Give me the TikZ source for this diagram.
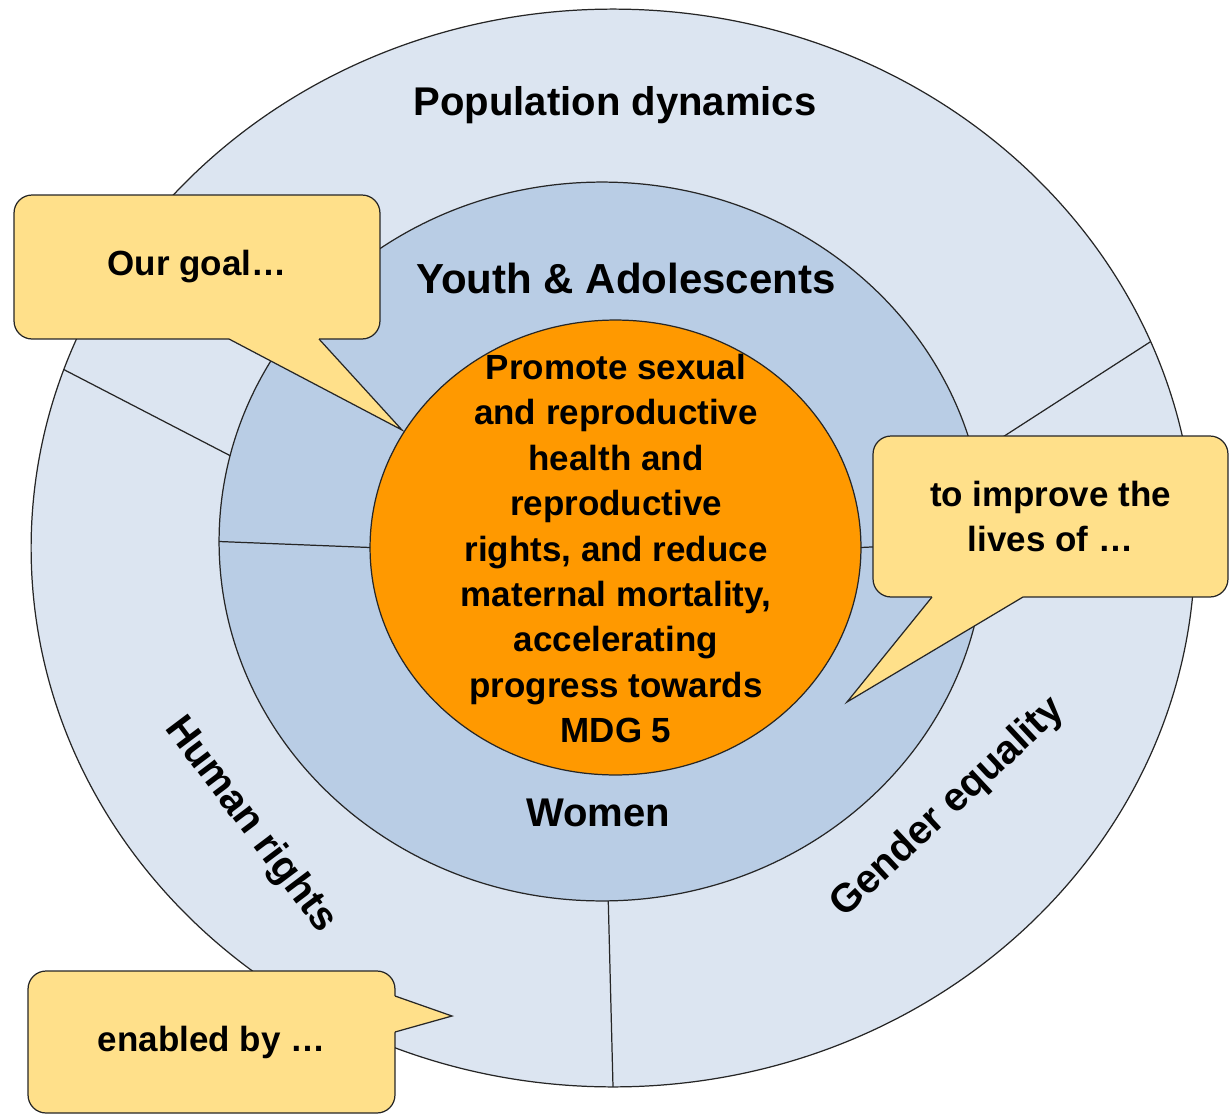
\documentclass[tikz,border=0pt]{standalone}
\usepackage{fontspec}
\setmainfont{Liberation Sans}
\usetikzlibrary{shapes.geometric}

\definecolor{popblue}{HTML}{DCE5F1}
\definecolor{youthblue}{HTML}{B9CDE5}
\definecolor{goalorange}{HTML}{FF9900}
\definecolor{noteyellow}{HTML}{FFE08A}

\tikzset{
  ring/.style={ellipse, draw=black!85, line width=0.7pt, inner sep=0pt, outer sep=0pt},
  ringlabel/.style={font=\fontsize{22.8}{27}\selectfont\bfseries},
  notebox/.style={rectangle, fill=noteyellow, draw=black!85, line width=0.7pt,
    rounded corners=0.36cm, inner sep=0pt, align=center,
    font=\fontsize{19.9}{25.8}\selectfont\bfseries},
  divider/.style={draw=black!85, line width=0.7pt},
}

\begin{document}
\begin{tikzpicture}[x=0.02cm, y=-0.02cm]
    \useasboundingbox (0,0) rectangle (1230,1115);

    % rings
    \node[ring, fill=popblue, minimum width=23.28cm, minimum height=21.56cm] (outer) at (613,548) {};
    \node[ring, fill=youthblue, minimum width=15.32cm, minimum height=14.38cm] (middle) at (602,541.5) {};
    \node[ring, fill=goalorange, minimum width=9.82cm, minimum height=9.10cm] (core) at (615.5,547.5) {};

    % dividers
    \draw[divider] (outer.162) -- (middle.167);
    \draw[divider] (outer.21) -- (middle.13);
    \draw[divider] (middle.271) -- (outer.270);
    \draw[divider] (middle.180) -- (core.180);
    \draw[divider] (core.0) -- (middle.0);

    % ring labels
    \node[ringlabel] (pop) at (615,105) {Population dynamics};
    \node[font=\fontsize{23.9}{28}\selectfont\bfseries] (youth) at (626,278) {Youth \& Adolescents};
    \node[ringlabel] (women) at (598,813) {Women};
    \node[ringlabel, rotate=-53] (human) at (250,825) {Human rights};
    \node[ringlabel, rotate=43] (gender) at (948,808) {Gender equality};

    \node[align=center, font=\fontsize{19.9}{25.84}\selectfont\bfseries] (goal) at (616,548.5)
        {Promote sexual\\and reproductive\\health and\\reproductive\\rights, and reduce\\maternal mortality,\\accelerating\\progress towards\\MDG 5};

    % callouts
    \node[notebox, minimum width=7.32cm, minimum height=2.88cm] (ourgoal) at (197,267) {Our goal…};
    \coordinate (ourgoaltip) at (402,430);
    \fill[noteyellow] (229,335) -- (229,339) -- (ourgoaltip) -- (319,339) -- (319,335) -- cycle;
    \draw[divider] (229,339) -- (ourgoaltip) -- (319,339);

    \node[notebox, minimum width=7.1cm, minimum height=3.22cm] (improve) at (1050.5,516.5) {to improve the\\lives of …};
    \coordinate (improvetip) at (847,702);
    \fill[noteyellow] (932,593) -- (932,597) -- (improvetip) -- (1023,597) -- (1023,593) -- cycle;
    \draw[divider] (932,597) -- (improvetip) -- (1023,597);

    \node[notebox, minimum width=7.34cm, minimum height=2.84cm] (enabled) at (211.5,1042) {enabled by …};
    \coordinate (enabledtip) at (452,1016);
    \fill[noteyellow] (391,996) -- (395,996) -- (enabledtip) -- (395,1032) -- (391,1032) -- cycle;
    \draw[divider] (395,996) -- (enabledtip) -- (395,1032);
\end{tikzpicture}
\end{document}
